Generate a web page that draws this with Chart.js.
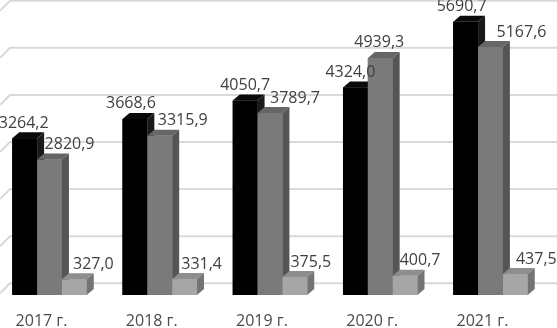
<!DOCTYPE html>
<html>
<head>
<meta charset="utf-8">
<script src="https://cdn.jsdelivr.net/npm/chart.js@4/dist/chart.umd.min.js"></script>
<style>
  html, body { margin: 0; padding: 0; background: #ffffff; overflow: hidden; width: 557px; height: 328px; }
  #wrap { position: absolute; left: -20px; top: 0; width: 597px; height: 328px; }
</style>
</head>
<body>
<div id="wrap"><canvas id="c" width="597" height="328"></canvas></div>
<script>
// ---- data ----
const categories = ['2017 г.', '2018 г.', '2019 г.', '2020 г.', '2021 г.'];
const seriesA = [3264.2, 3668.6, 4050.7, 4324.0, 5690.7];
const seriesB = [2820.9, 3315.9, 3789.7, 4939.3, 5167.6];
const seriesC = [327.0, 331.4, 375.5, 400.7, 437.5];
const gridValues = [0, 1000, 2000, 3000, 4000, 5000, 6000];

// ---- styles ----
const faces = [
  { front: '#000000', top: '#0a0a0a', side: '#1a1a1a' },
  { front: '#7a7a7a', top: '#666666', side: '#555555' },
  { front: '#a6a6a6', top: '#8e8e8e', side: '#747474' }
];
const DX = 7, DY = 6;
const labelShift = [[-1, -4, 0, -5, -4], [20, 23, 25, -1, 31], [19, 17, 16, 15, 21]];
const SHIFT = 20; // canvas is offset 20px left of the page

function fmt(v) { return v.toFixed(1).replace('.', ','); }

const bars3d = {
  id: 'bars3d',
  beforeDatasetsDraw(chart) {
    const ctx = chart.ctx, y = chart.scales.y;
    const p0 = y.getPixelForValue(0);
    const back0 = p0 - 11.7;
    ctx.save();
    ctx.strokeStyle = '#d9d9d9';
    ctx.lineWidth = 2;
    gridValues.forEach(v => {
      const gy = back0 - (p0 - y.getPixelForValue(v)) * 0.981;
      ctx.beginPath();
      ctx.moveTo(SHIFT + 0, gy + 10);
      ctx.lineTo(SHIFT + 10, gy);
      ctx.lineTo(SHIFT + 560, gy);
      ctx.stroke();
    });
    ctx.restore();
  },
  afterDatasetsDraw(chart) {
    const ctx = chart.ctx;
    ctx.save();
    for (let i = 0; i < categories.length; i++) {
      for (let d = 0; d < 3; d++) {
        const el = chart.getDatasetMeta(d).data[i];
        const p = el.getProps(['x', 'y', 'base', 'width'], true);
        const L = p.x - p.width / 2, R = p.x + p.width / 2;
        const f = faces[d];
        ctx.fillStyle = f.front;
        ctx.fillRect(L, p.y, p.width, p.base - p.y);
        ctx.fillStyle = f.top;
        ctx.beginPath();
        ctx.moveTo(L, p.y); ctx.lineTo(L + DX, p.y - DY); ctx.lineTo(R + DX, p.y - DY); ctx.lineTo(R, p.y);
        ctx.closePath(); ctx.fill();
        ctx.fillStyle = f.side;
        ctx.beginPath();
        ctx.moveTo(R, p.y); ctx.lineTo(R + DX, p.y - DY); ctx.lineTo(R + DX, p.base - DY); ctx.lineTo(R, p.base);
        ctx.closePath(); ctx.fill();
      }
    }
    ctx.restore();
  },
  afterDraw(chart) {
    const ctx = chart.ctx, x = chart.scales.x;
    ctx.save();
    ctx.font = '16px "Open Sans"';
    ctx.textAlign = 'center';
    ctx.textBaseline = 'middle';
    ctx.fillStyle = '#404040';
    for (let d = 0; d < 3; d++) {
      const meta = chart.getDatasetMeta(d);
      const vals = chart.data.datasets[d].data;
      meta.data.forEach((el, i) => {
        const p = el.getProps(['x', 'y'], true);
        ctx.fillText(fmt(vals[i]), p.x + labelShift[d][i], p.y - 15);
      });
    }
    ctx.fillStyle = '#4a4a4a';
    categories.forEach((c, i) => {
      ctx.fillText(c, x.getPixelForValue(i) - 8, 321);
    });
    ctx.restore();
  }
};

new Chart(document.getElementById('c'), {
  type: 'bar',
  data: {
    labels: categories,
    datasets: [
      { data: seriesA, backgroundColor: faces[0].front },
      { data: seriesB, backgroundColor: faces[1].front },
      { data: seriesC, backgroundColor: faces[2].front }
    ]
  },
  options: {
    responsive: false,
    animation: false,
    events: [],
    layout: { padding: { left: 14.4, right: 31.4, top: 0, bottom: 0 } },
    datasets: { bar: { categoryPercentage: 0.676, barPercentage: 1, borderWidth: 0 } },
    plugins: { legend: { display: false }, tooltip: { enabled: false } },
    scales: {
      x: { display: false, offset: true },
      y: { display: false, min: -687.5, max: 6145.8, bounds: 'data' }
    }
  },
  plugins: [bars3d]
});
</script>
</body>
</html>
